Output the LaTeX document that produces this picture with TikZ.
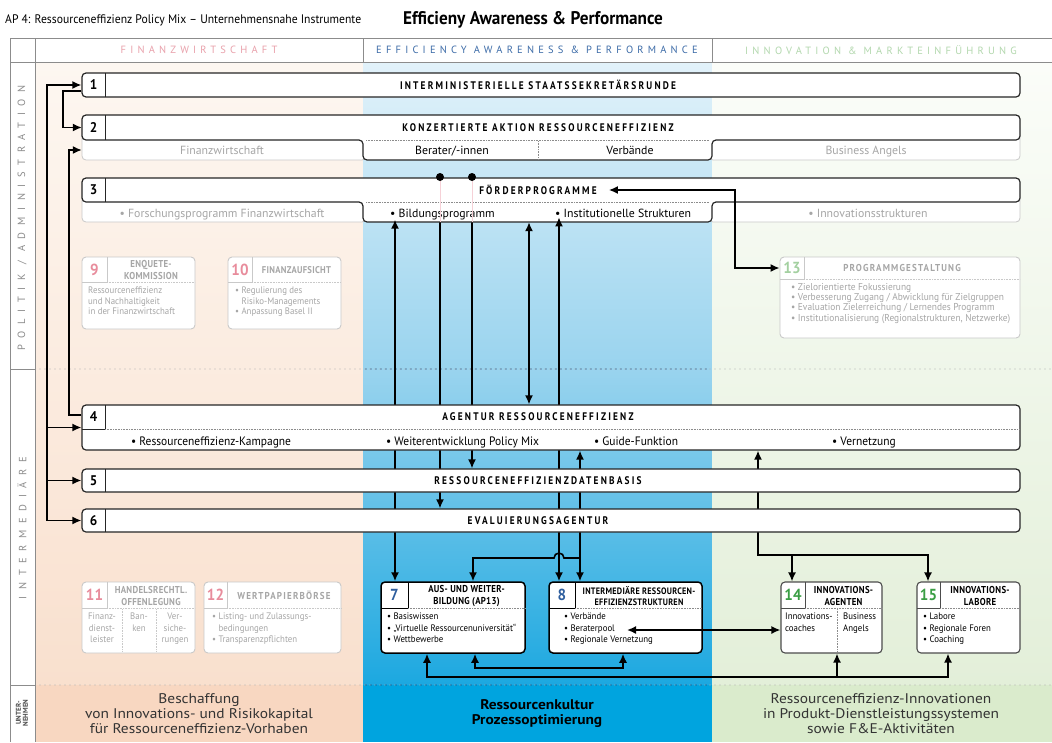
\documentclass[tikz,border=0pt]{standalone}
\usepackage{fontspec}
\setmainfont{PT Sans}
\newfontfamily\condfont{PT Sans}[FakeStretch=0.94]
\newfontfamily\capsfont{PT Sans}[FakeStretch=0.85, LetterSpace=20]
\newfontfamily\tagfont{PT Sans}[FakeStretch=0.88, LetterSpace=3]
\newfontfamily\wideTag{PT Sans}[FakeStretch=0.9, LetterSpace=12]
\newfontfamily\headfont{PT Sans}[LetterSpace=40]
\newfontfamily\rowfont{PT Sans}[LetterSpace=63]
\newfontfamily\footfont{PT Sans}[FakeStretch=1.1]
\usetikzlibrary{arrows.meta,positioning,calc}

\pgfdeclarelayer{bg}
\pgfdeclarelayer{wires}
\pgfdeclarelayer{front}
\pgfsetlayers{bg,wires,main,front}

% column colours
\definecolor{finTop}{HTML}{FDF7F1}
\definecolor{finBot}{HTML}{F9E0CE}
\definecolor{finRow}{HTML}{F8D7C1}
\definecolor{effTop}{HTML}{E2F2FA}
\definecolor{effMid}{HTML}{98D3EE}
\definecolor{effBot}{HTML}{1CA8E0}
\definecolor{effRow}{HTML}{00A4DF}
\definecolor{innTop}{HTML}{FBFDF9}
\definecolor{innBot}{HTML}{E3EFD9}
\definecolor{innRow}{HTML}{DAEBCC}
% text colours
\definecolor{finPink}{HTML}{E88C9C}
\definecolor{headPink}{HTML}{E9A1AB}
\definecolor{effBlue}{HTML}{2E5E9E}
\definecolor{headBlue}{HTML}{3D6CA8}
\definecolor{innGreen}{HTML}{3A9E44}
\definecolor{paleGreen}{HTML}{A3D0A0}
\definecolor{headGreen}{HTML}{B3D8AE}
\definecolor{paleText}{HTML}{A6A6A6}
\definecolor{paleLine}{HTML}{C9C9C9}
\definecolor{navyDot}{HTML}{1D3563}

\begin{document}
\begin{tikzpicture}[
    x=1pt, y=-1pt,
    grid/.style={draw=black!45, line width=0.6pt},
    rowsep/.style={line width=1.3pt, dash pattern=on 0pt off 5pt, line cap=round},
    colhead/.style={font=\headfont\fontsize{10.5}{10.5}\selectfont, inner sep=0pt},
    rowhead/.style={rotate=90, font=\rowfont\fontsize{10.5}{10.5}\selectfont, text=black!45, inner sep=0pt},
    foot/.style={align=center, font=\footfont\fontsize{14}{15}\selectfont, text=black!80, inner sep=0pt},
    bar/.style={draw=black!85, line width=1.2pt, fill=white, rounded corners=4pt, minimum width=938pt, inner sep=0pt},
    subgray/.style={draw=paleLine, line width=0.8pt, fill=white, rounded corners=4pt},
    cell/.style={draw=black!85, line width=1pt},
    palecell/.style={draw=paleLine, line width=0.8pt},
    dotsep/.style={densely dotted, line width=0.6pt, draw=black!45},
    bartitle/.style={font=\capsfont\bfseries\fontsize{11}{11}\selectfont, inner sep=0pt},
    barnum/.style={font=\condfont\bfseries\fontsize{14}{14}\selectfont, inner sep=0pt},
    subtext/.style={font=\fontsize{11.8}{12}\selectfont, inner sep=0pt, anchor=base},
    paletext/.style={subtext, text=paleText},
    bullet/.style={font=\condfont\fontsize{12.2}{13}\selectfont, inner sep=0pt, anchor=base west},
    infobox/.style={draw=paleLine, line width=0.9pt, fill=white, rounded corners=4pt, inner sep=0pt},
    keybox/.style={infobox, draw=black, line width=1.5pt},
    midbox/.style={infobox, draw=black!70, line width=1.1pt},
    boxnum/.style={font=\condfont\bfseries\fontsize{16}{16}\selectfont, inner sep=0pt},
    boxtitle/.style={font=\tagfont\bfseries\fontsize{10}{11.5}\selectfont, align=center, inner sep=0pt},
    boxhead/.style={boxtitle, font=\wideTag\bfseries\fontsize{10}{11}\selectfont},
    boxbody/.style={font=\condfont\fontsize{9.4}{11.5}\selectfont, align=left, inner sep=0pt, anchor=north west},
    wire/.style={line width=1.6pt},
    link/.style={wire, -{Latex[length=9pt,width=8pt]}},
    both/.style={wire, {Latex[length=9pt,width=8pt]}-{Latex[length=9pt,width=8pt]}},
    joint/.style={circle, fill=black, inner sep=0pt, minimum size=8pt}
]
\useasboundingbox (0,0) rectangle (1052,742);

% Column backgrounds
\begin{pgfonlayer}{bg}
\fill[white] (0,0) rectangle (1052,742);
\shade[top color=finTop, bottom color=finBot] (35,62) rectangle (363,685);
\fill[finRow] (35,685) rectangle (363,742);
\shade[top color=effTop, bottom color=effBot, middle color=effMid] (363,62) rectangle (712,685);
\fill[effRow] (363,685) rectangle (712,742);
\shade[top color=innTop, bottom color=innBot] (712,62) rectangle (1052,685);
\fill[innRow] (712,685) rectangle (1052,742);
\fill[white] (10,38) rectangle (1052,62);
% level separators
\draw[rowsep, draw=black!30] (40,369) -- (1052,369) (40,685) -- (1052,685);
\draw[rowsep, draw=navyDot] (366,369) -- (710,369) (366,685) -- (710,685);
\end{pgfonlayer}

% Heading
\node[anchor=west, font=\condfont\fontsize{12.4}{13}\selectfont, inner sep=0pt] (apTitle) at (5,20) {AP 4: Ressourceneffizienz Policy Mix – Unternehmensnahe Instrumente};
\node[font=\condfont\bfseries\fontsize{18.3}{19}\selectfont, inner sep=0pt] (mainTitle) at (533,20) {Efficieny Awareness \& Performance};

% Table frame
\draw[grid] (10,38) -- (1052,38) (10,62) -- (1052,62) (10,38) -- (10,742) (35,38) -- (35,742)
    (363,38) -- (363,62) (712,38) -- (712,62) (10,369) -- (35,369) (10,685) -- (35,685);

\node[colhead, text=headPink] (hFin) at (199,50) {FINANZWIRTSCHAFT};
\node[colhead, text=headBlue] (hEff) at (537,50) {EFFICIENCY AWARENESS \& PERFORMANCE};
\node[colhead, text=headGreen] (hInn) at (881,50) {INNOVATION \& MARKTEINFÜHRUNG};

\node[rowhead] (rPol) at (22,218) {POLITIK / ADMINISTRATION};
\node[rowhead] (rInt) at (22,528) {INTERMEDIÄRE};
\node[rotate=90, align=center, font=\bfseries\fontsize{7}{7}\selectfont, text=black!70, inner sep=0pt] (rUnt) at (22,713) {UNTER-\\NEHMEN};

% Company level
\node[foot] (fFin) at (199,714) {Beschaffung\\von Innovations- und Risikokapital\\für Ressourceneffizienz-Vorhaben};
\node[foot, font=\footfont\bfseries\fontsize{14}{15}\selectfont, text=black] (fEff) at (537,714) {Ressourcenkultur\\Prozessoptimierung};
\node[foot] (fInn) at (881,714) {Ressourceneffizienz-Innovationen\\in Produkt-Dienstleistungssystemen\\sowie F\&E-Aktivitäten};

% 1
\node[bar, minimum height=24pt] (b1) at (551,85) {};
\draw[cell] (105,73) -- (105,97);
\node[barnum] (n1) at (93.5,85) {1};
\node[bartitle] (t1) at (538,85) {INTERMINISTERIELLE STAATSSEKRETÄRSRUNDE};

% 2
\draw[subgray] (82,132) rectangle (366,160);
\draw[subgray] (709,132) rectangle (1020,160);
\draw[bar] (82,115) -- (1020,115) -- (1020,140) -- (712,140) -- (712,160) -- (363,160) -- (363,140) -- (82,140) -- cycle;
\draw[dotsep] (366,140) -- (709,140) (538,141) -- (538,159);
\draw[cell] (105,115) -- (105,140);
\node[minimum width=938pt, minimum height=25pt, inner sep=0pt] (b2) at (551,127.5) {};
\node[barnum] (n2) at (93.5,127.5) {2};
\node[bartitle] (t2) at (538,127.5) {KONZERTIERTE AKTION RESSOURCENEFFIZIENZ};
\node[paletext] (fin2) at (222,154) {Finanzwirtschaft};
\node[subtext] (ber2) at (452,154) {Berater/-innen};
\node[subtext] (ver2) at (630,154) {Verbände};
\node[paletext] (ang2) at (866,154) {Business Angels};

% 3
\draw[subgray] (82,195) rectangle (366,222);
\draw[subgray] (709,195) rectangle (1020,222);
\draw[bar] (82,178) -- (1020,178) -- (1020,202) -- (712,202) -- (712,222) -- (363,222) -- (363,202) -- (82,202) -- cycle;
\draw[dotsep] (366,202) -- (709,202);
\draw[cell] (105,178) -- (105,202);
\node[minimum width=938pt, minimum height=44pt, inner sep=0pt] (b3) at (551,200) {};
\node[barnum] (n3) at (93.5,190) {3};
\node[bartitle] (t3) at (538,190) {FÖRDERPROGRAMME};
\node[paletext] (fin3) at (222,217) {• Forschungsprogramm Finanzwirtschaft};
\node[subtext, anchor=base west] (bild) at (390,217) {• Bildungsprogramm};
\node[subtext, anchor=base west] (inst) at (555,217) {• Institutionelle Strukturen};
\node[paletext] (inn3) at (868,217) {• Innovationsstrukturen};

% 9, 10, 13
\node[infobox, minimum width=113pt, minimum height=72pt] (b9) at (138.5,293) {};
\draw[palecell] (107,257) -- (107,282) -- (82,282);
\draw[dotsep, draw=paleLine] (107,282) -- (195,282);
\node[boxnum, text=finPink] (n9) at (94.5,269.5) {9};
\node[boxtitle, text=paleText] (t9) at (151,270) {ENQUETE-\\KOMMISSION};
\node[boxbody, text=paleText, font=\condfont\fontsize{9.4}{10.3}\selectfont] (l9) at (88,287) {Ressourceneffizienz\\und Nachhaltigkeit\\in der Finanzwirtschaft};

\node[infobox, minimum width=113pt, minimum height=72pt] (b10) at (284.5,293) {};
\draw[palecell] (252,257) -- (252,282) -- (228,282);
\draw[dotsep, draw=paleLine] (252,282) -- (341,282);
\node[boxnum, text=finPink] (n10) at (240,269.5) {10};
\node[boxhead, text=paleText, font=\tagfont\bfseries\fontsize{9.8}{10}\selectfont] (t10) at (296.5,270) {FINANZAUFSICHT};
\node[boxbody, text=paleText, font=\condfont\fontsize{9.4}{10.3}\selectfont] (l10) at (235,287) {• Regulierung des\\\hphantom{• }Risiko-Managements\\• Anpassung Basel II};

\node[infobox, minimum width=240pt, minimum height=81pt] (b13) at (900,297.5) {};
\draw[palecell] (804,257) -- (804,279) -- (780,279);
\draw[dotsep, draw=paleLine] (804,279) -- (1020,279);
\node[boxnum, text=paleGreen] (n13) at (792,268) {13};
\node[boxhead, text=paleText] (t13) at (902,268) {PROGRAMMGESTALTUNG};
\node[boxbody, text=paleText, font=\condfont\fontsize{10}{10.3}\selectfont] (l13) at (791,283) {• Zielorientierte Fokussierung\\• Verbesserung Zugang / Abwicklung für Zielgruppen\\• Evaluation Zielerreichung / Lernendes Programm\\• Institutionalisierung (Regionalstrukturen, Netzwerke)};

% 4, 5, 6
\node[bar, minimum height=45pt] (b4) at (551,427.5) {};
\draw[cell] (105,405) -- (105,429) -- (82,429);
\draw[dotsep] (105,429) -- (1020,429);
\node[barnum] (n4) at (93.5,417) {4};
\node[bartitle] (t4) at (538,417) {AGENTUR RESSOURCENEFFIZIENZ};
\node[bullet] (k4a) at (131,445) {• Ressourceneffizienz-Kampagne};
\node[bullet] (k4b) at (386,445) {• Weiterentwicklung Policy Mix};
\node[bullet] (k4c) at (594,445) {• Guide-Funktion};
\node[bullet] (k4d) at (832,445) {• Vernetzung};

\node[bar, minimum height=23pt] (b5) at (551,480.5) {};
\draw[cell] (105,469) -- (105,492);
\node[barnum] (n5) at (93.5,480.5) {5};
\node[bartitle] (t5) at (538,480.5) {RESSOURCENEFFIZIENZDATENBASIS};

\node[bar, minimum height=23pt] (b6) at (551,520.5) {};
\draw[cell] (105,509) -- (105,532);
\node[barnum] (n6) at (93.5,520.5) {6};
\node[bartitle] (t6) at (538,520.5) {EVALUIERUNGSAGENTUR};

% 11, 12
\node[infobox, minimum width=113pt, minimum height=71pt] (b11) at (138.5,617.5) {};
\draw[palecell] (107,582) -- (107,608) -- (82,608);
\draw[dotsep, draw=paleLine] (107,608) -- (195,608) (122,609) -- (122,652) (156,609) -- (156,652);
\node[boxnum, text=finPink] (n11) at (94.5,595) {11};
\node[boxtitle, text=paleText] (t11) at (151,596) {HANDELSRECHTL.\\OFFENLEGUNG};
\node[boxbody, anchor=north, align=center, text=paleText] (l11a) at (102,613) {Finanz-\\dienst-\\leister};
\node[boxbody, anchor=north, align=center, text=paleText] (l11b) at (139,613) {Ban-\\ken};
\node[boxbody, anchor=north, align=center, text=paleText] (l11c) at (175,613) {Ver-\\siche-\\rungen};

\node[infobox, minimum width=137pt, minimum height=71pt] (b12) at (272.5,617.5) {};
\draw[palecell] (227,582) -- (227,608) -- (204,608);
\draw[dotsep, draw=paleLine] (227,608) -- (341,608);
\node[boxnum, text=finPink] (n12) at (215.5,595) {12};
\node[boxhead, text=paleText] (t12) at (284,595) {WERTPAPIERBÖRSE};
\node[boxbody, text=paleText] (l12) at (212,613) {• Listing- und Zulassungs-\\\hphantom{• }bedingungen\\• Transparenzpflichten};

% 7, 8
\node[keybox, minimum width=144pt, minimum height=71pt] (b7) at (453,617.5) {};
\draw[cell, draw=black] (408,582) -- (408,608) -- (381,608);
\draw[dotsep] (408,608) -- (525,608);
\node[boxnum, text=effBlue] (n7) at (394.5,595) {7};
\node[boxtitle] (t7) at (466.5,596) {AUS- UND WEITER-\\BILDUNG (AP13)};
\node[boxbody] (l7) at (387,613) {• Basiswissen\\• „Virtuelle Ressourcenuniversität“\\• Wettbewerbe};

\node[keybox, minimum width=153pt, minimum height=71pt] (b8) at (625.5,617.5) {};
\draw[cell, draw=black] (575,582) -- (575,608) -- (549,608);
\draw[dotsep] (575,608) -- (702,608);
\node[boxnum, text=effBlue] (n8) at (562,595) {8};
\node[boxtitle, font=\tagfont\bfseries\fontsize{9.3}{11.5}\selectfont] (t8) at (639,596) {INTERMEDIÄRE RESSOURCEN-\\EFFIZIENZSTRUKTUREN};
\node[boxbody] (l8) at (564,613) {• Verbände\\• Beraterpool\\• Regionale Vernetzung};

% 14, 15
\node[midbox, minimum width=101pt, minimum height=71pt] (b14) at (831.5,617.5) {};
\draw[cell, draw=black!70] (805,582) -- (805,608) -- (781,608);
\draw[dotsep] (805,608) -- (882,608) (837,609) -- (837,652);
\node[boxnum, text=innGreen] (n14) at (793,595) {14};
\node[boxtitle] (t14) at (843.5,596) {INNOVATIONS-\\AGENTEN};
\node[boxbody] (l14a) at (785,613) {Innovations-\\coaches};
\node[boxbody] (l14b) at (843,613) {Business\\Angels};

\node[midbox, minimum width=103pt, minimum height=71pt] (b15) at (968.5,617.5) {};
\draw[cell, draw=black!70] (940,582) -- (940,608) -- (917,608);
\draw[dotsep] (940,608) -- (1020,608);
\node[boxnum, text=innGreen] (n15) at (928.5,595) {15};
\node[boxtitle] (t15) at (980,596) {INNOVATIONS-\\LABORE};
\node[boxbody] (l15) at (923,613) {• Labore\\• Regionale Foren\\• Coaching};

% connectors on top of the boxes
\begin{pgfonlayer}{front}
\draw[line width=0.8pt, draw=finPink!40] (440,178) -- (440,222) (472,178) -- (472,222);
\node[joint] (j1) at (440,177) {};
\node[joint] (j2) at (472,177) {};
\draw[link] (395,230) -- (bild.south -| 395,0);
\draw[link] (559,230) -- (inst.south -| 559,0);
\draw[both] ([xshift=12pt]t3.east) -| (735,240) |- (b13.west |- t13);
\coordinate (pool) at (627,630);
\draw[both] (pool) -- (b14.west |- pool);
\end{pgfonlayer}

% connectors running behind the boxes
\begin{pgfonlayer}{wires}
\coordinate (rail) at (47,0);
\draw[link] (rail |- b6.west) -- (rail |- b1.west) -- (b1.west);
\draw[link] (rail |- b4.west) -- (b4.west);
\draw[link] (rail |- b5.west) -- (b5.west);
\draw[link] (rail |- b6.west) -- (b6.west);
\draw[link] ([yshift=-6pt]b1.west) -- (63,91) |- (b2.west);
\draw[link] ([yshift=12.5pt]b4.west) -- (69,415) |- (b2.west |- 0,150);

\draw[link] (bild.south -| 395,0) -- (b7.north -| 395,0);
\draw[link] (j1) -- (b6.north -| j1);
\draw[link] (j2) -- (b5.north -| j2);
\draw[both] (b3.south -| 529,0) -- (b4.north -| 529,0);
\draw[link] (inst.south -| 559,0) -- (b8.north -| 559,0);
\draw[both] (b4.south -| 580,0) -- (b8.north -| 580,0);
\draw[link] (580,558) -- (564,558) arc[start angle=0, end angle=180, radius=5pt] -- (473,558) -- (b7.north -| 473,0);
\draw[both] (b4.south -| 758,0) |- (928,555) -- (b15.north -| 928,0);
\draw[link] (792,555) -- (b14.north -| 792,0);
\draw[both] (b7.south -| 427,0) |- (948,677) -- (b15.south -| 948,0);
\draw[link] (837,677) -- (b14.south -| 837,0);
\draw[both] (b7.south -| 475,0) |- (623,668) -- (b8.south -| 623,0);
\end{pgfonlayer}

\end{tikzpicture}
\end{document}
